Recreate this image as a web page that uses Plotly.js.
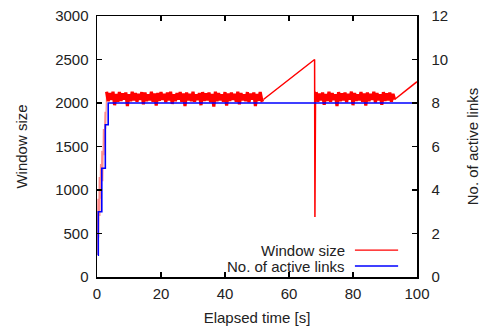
<!DOCTYPE html>
<html><head><meta charset="utf-8">
<script src="https://cdn.plot.ly/plotly-3.0.1.min.js"></script>
<style>body{margin:0;background:#fff}#c{width:483px;height:330px}</style>
</head><body><div id="c"></div>
<script>
// Window size: start-up phase
const tStart = [0, 0.3, 0.5, 0.7, 0.9, 1.1, 1.3, 1.5, 1.8, 2.0, 2.2, 2.5, 2.7, 3];
const wStart = [250, 900, 450, 1150, 700, 1300, 900, 1450, 1100, 1700, 1400, 1900, 1700, 2130];
// first steady phase (3 s .. 52 s)
const tBand1 = [3,3.5,4,4.5,5,5.5,6,6.5,7,7.5,8,8.5,9,9.5,10,10.5,11,11.5,12,12.5,13,13.5,14,14.5,15,15.5,16,16.5,17,17.5,18,18.5,19,19.5,20,20.5,21,21.5,22,22.5,23,23.5,24,24.5,25,25.5,26,26.5,27,27.5,28,28.5,29,29.5,30,30.5,31,31.5,32,32.5,33,33.5,34,34.5,35,35.5,36,36.5,37,37.5,38,38.5,39,39.5,40,40.5,41,41.5,42,42.5,43,43.5,44,44.5,45,45.5,46,46.5,47,47.5,48,48.5,49,49.5,50,50.5,51,51.5,52];
const wBand1 = [2130,2020,2115,2035,2130,1975,2105,2015,2125,2025,
2110,2040,2120,1965,2100,2020,2130,2030,2115,2015,
2105,2035,2125,1985,2120,2020,2100,2030,2130,2015,
2110,1970,2115,2025,2125,2035,2105,2010,2120,2030,
2130,1990,2100,2020,2115,2040,2125,2015,2110,1965,
2120,2030,2105,2020,2130,2015,2100,2035,2115,1975,
2125,2025,2110,2030,2120,2010,2105,1960,2130,2020,
2115,2030,2100,2015,2125,1970,2110,2025,2120,2035,
2105,2015,2130,1985,2115,2030,2100,2020,2125,2010,
2110,2040,2120,1965,2105,2025,2125,2030,2040];
// linear growth from 52 s, drop at 68 s
const tRamp1 = [52, 68.0, 68.1, 68.3, 68.5];
const wRamp1 = [2040, 2500, 690, 2120, 2125];
// second steady phase (68.5 s .. 93 s)
const tBand2 = [68.5,69,69.5,70,70.5,71,71.5,72,72.5,73,73.5,74,74.5,75,75.5,76,76.5,77,77.5,78,78.5,79,79.5,80,80.5,81,81.5,82,82.5,83,83.5,84,84.5,85,85.5,86,86.5,87,87.5,88,88.5,89,89.5,90,90.5,91,91.5,92,92.5,93];
const wBand2 = [2125,2015,2110,2030,2120,1980,2105,2025,2130,2015,
2115,2035,2100,1965,2125,2020,2110,2030,2120,2010,
2105,2040,2130,1975,2115,2025,2100,2030,2125,2015,
2110,1970,2120,2020,2105,2035,2130,2005,2115,2030,
2100,1980,2125,2025,2110,2030,2120,2015,2105,2040];
// linear growth from 93 s
const tRamp2 = [93, 100];
const wRamp2 = [2040, 2245];
// active links (step)
const tLinks = [0.3, 0.4, 1.5, 2.6, 3.5, 100];
const nLinks = [1, 3, 5, 7, 8, 8];

const xTicks = [0, 20, 40, 60, 80, 100];
const y1Ticks = [0, 500, 1000, 1500, 2000, 2500, 3000];
const y2Ticks = [0, 2, 4, 6, 8, 10, 12];
const legendLabels = ['Window size', 'No. of active links'];

const FONT = 'Liberation Sans, Arial, sans-serif';
const TXT = '#222';
const RED = '#ff0000';

function redTrace(x, y, w, op) {
  return {x: x, y: y, type: 'scatter', mode: 'lines', line: {color: RED, width: w, simplify: false}, opacity: op, yaxis: 'y', name: legendLabels[0], showlegend: false, hoverinfo: 'skip'};
}

const data = [
  redTrace(tStart, wStart, 1.2, 0.45),
  redTrace(tBand1, wBand1, 3.2, 1),
  redTrace(tRamp1, wRamp1, 1.5, 1),
  redTrace(tBand2, wBand2, 3.2, 1),
  redTrace(tRamp2, wRamp2, 1.5, 1),
  {x: tLinks, y: nLinks, type: 'scatter', mode: 'lines', line: {color: '#0000ff', width: 1.6, shape: 'hv', simplify: false}, yaxis: 'y2', name: legendLabels[1], showlegend: false}
];

const axCommon = {showline: true, linecolor: '#000', linewidth: 1.5, ticks: 'inside', ticklen: 5, tickwidth: 1.5, tickcolor: '#000', showgrid: false, zeroline: false, tickfont: {family: FONT, size: 15, color: TXT}};

const layout = {
  width: 483, height: 330,
  margin: {l: 97, r: 66, t: 16, b: 53},
  paper_bgcolor: '#fff', plot_bgcolor: '#fff',
  font: {family: FONT, size: 15, color: TXT},
  showlegend: false,
  xaxis: Object.assign({}, axCommon, {range: [0, 100], tickvals: xTicks, ticktext: xTicks.map(String), mirror: 'ticks', ticklabelstandoff: 2,
    title: {text: 'Elapsed time [s]', font: {family: FONT, size: 15, color: TXT}, standoff: 12}}),
  yaxis: Object.assign({}, axCommon, {range: [0, 3000], tickvals: y1Ticks, ticktext: y1Ticks.map(String), ticklabelstandoff: 4,
    title: {text: 'Window size', font: {family: FONT, size: 15, color: TXT}, standoff: 24}}),
  yaxis2: Object.assign({}, axCommon, {range: [0, 12], tickvals: y2Ticks, ticktext: y2Ticks.map(String), overlaying: 'y', side: 'right', ticklabelstandoff: 10,
    title: {text: 'No. of active links', font: {family: FONT, size: 15, color: TXT}, standoff: 20}}),
  annotations: [
    {xref: 'paper', yref: 'paper', x: 0.781, y: 0.103, xanchor: 'right', yanchor: 'middle', text: legendLabels[0], showarrow: false, font: {family: FONT, size: 15, color: TXT}},
    {xref: 'paper', yref: 'paper', x: 0.781, y: 0.042, xanchor: 'right', yanchor: 'middle', text: legendLabels[1], showarrow: false, font: {family: FONT, size: 15, color: TXT}}
  ],
  shapes: [
    {type: 'line', xref: 'paper', yref: 'paper', x0: 0.806, x1: 0.941, y0: 0.103, y1: 0.103, line: {color: RED, width: 1.3}},
    {type: 'line', xref: 'paper', yref: 'paper', x0: 0.806, x1: 0.941, y0: 0.042, y1: 0.042, line: {color: '#0000ff', width: 1.6}}
  ]
};

Plotly.newPlot('c', data, layout, {staticPlot: true, displayModeBar: false});
</script></body></html>
